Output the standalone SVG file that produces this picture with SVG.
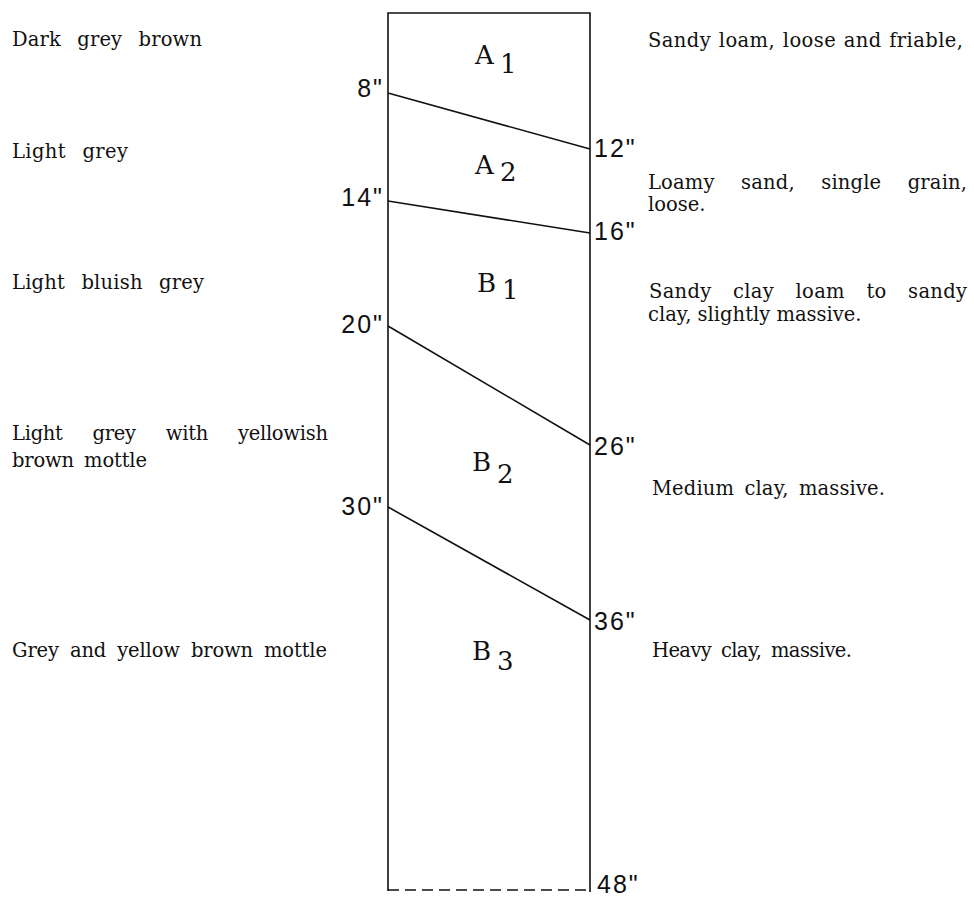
<svg xmlns="http://www.w3.org/2000/svg" width="974" height="898" viewBox="0 0 974 898">
<style>
.t{font-family:"DejaVu Serif","Liberation Serif",serif;font-size:19.5px;fill:#111}
.d{font-family:"Liberation Sans","DejaVu Sans",sans-serif;font-size:25px;fill:#111;letter-spacing:2px}
.h{font-family:"DejaVu Serif","Liberation Serif",serif;font-size:26px;fill:#111}
.ln{stroke:#111;stroke-width:1.6;fill:none}
</style>
<rect width="974" height="898" fill="#fff"/>
<g id="profile">
<path class="ln" d="M388 891 V13 H590 V892"/>
<line class="ln" x1="388" y1="890" x2="590" y2="890" stroke-dasharray="11 6" stroke-width="2"/>
</g>
<g id="boundaries">
<line class="ln" x1="388" y1="93" x2="590" y2="149"/>
<line class="ln" x1="388" y1="201" x2="590" y2="233"/>
<line class="ln" x1="388" y1="326" x2="590" y2="445"/>
<line class="ln" x1="388" y1="507" x2="590" y2="620"/>
</g>
<g id="horizons">
<text class="h" x="475" y="64">A<tspan x="500" y="73">1</tspan></text>
<text class="h" x="475" y="174">A<tspan x="500" y="181">2</tspan></text>
<text class="h" x="477" y="292">B<tspan x="502" y="299">1</tspan></text>
<text class="h" x="472" y="471">B<tspan x="497" y="483">2</tspan></text>
<text class="h" x="472" y="660">B<tspan x="497" y="670">3</tspan></text>
</g>
<g id="depths">
<text class="d" x="384" y="97" text-anchor="end">8"</text>
<text class="d" x="384" y="206" text-anchor="end">14"</text>
<text class="d" x="384" y="333" text-anchor="end">20"</text>
<text class="d" x="384" y="515" text-anchor="end">30"</text>
<text class="d" x="594" y="157">12"</text>
<text class="d" x="594" y="240">16"</text>
<text class="d" x="594" y="455">26"</text>
<text class="d" x="594" y="630">36"</text>
<text class="d" x="597" y="893">48"</text>
</g>
<g id="colours">
<text class="t" x="12" y="46" word-spacing="10" textLength="190">Dark grey brown</text>
<text class="t" x="12" y="158" word-spacing="10" textLength="116">Light grey</text>
<text class="t" x="12" y="289" word-spacing="10" textLength="192">Light bluish grey</text>
<text class="t" x="12" y="440" word-spacing="24" textLength="316">Light grey with yellowish</text>
<text class="t" x="12" y="467" word-spacing="4" textLength="135">brown mottle</text>
<text class="t" x="12" y="657" word-spacing="5" textLength="315">Grey and yellow brown mottle</text>
</g>
<g id="textures">
<text class="t" x="648" y="47" word-spacing="1" textLength="315">Sandy loam, loose and friable,</text>
<text class="t" x="648" y="189" word-spacing="20" textLength="319">Loamy sand, single grain,</text>
<text class="t" x="648" y="211">loose.</text>
<text class="t" x="649" y="298" word-spacing="15" textLength="318">Sandy clay loam to sandy</text>
<text class="t" x="648" y="321">clay, slightly massive.</text>
<text class="t" x="652" y="495" word-spacing="4" textLength="233">Medium clay, massive.</text>
<text class="t" x="652" y="657" word-spacing="4" textLength="200">Heavy clay, massive.</text>
</g>
</svg>
